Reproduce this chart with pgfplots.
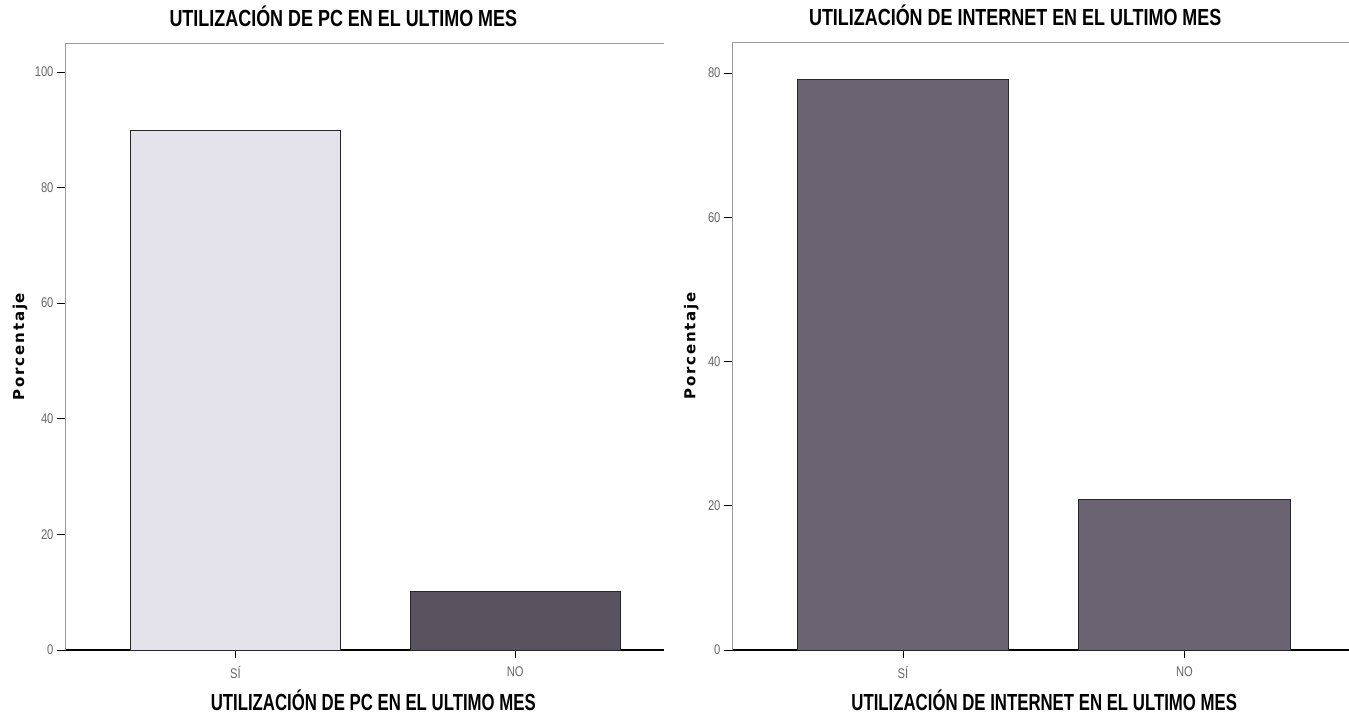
\documentclass[border=0pt]{standalone}
\usepackage{fontspec}
\usepackage{pgfplots}
\pgfplotsset{compat=1.18}
\setmainfont{Liberation Sans}
\newfontfamily\titlefont[FakeStretch=0.77]{Liberation Sans Bold}
\newfontfamily\xlabfont[FakeStretch=0.72]{Liberation Sans Bold}
\newfontfamily\tickfont[FakeStretch=0.8]{Liberation Sans}
\newfontfamily\ylabfont[LetterSpace=12]{DejaVu Sans Bold}

\definecolor{barlight}{HTML}{E4E2EB}
\definecolor{bardark}{HTML}{58535E}
\definecolor{barmid}{HTML}{6B6371}
\definecolor{frame}{HTML}{9A9A9A}

\pgfplotsset{
  spss/.style={
    scale only axis, anchor=south west,
    ymin=0,
    axis x line*=bottom, axis y line*=left,
    x axis line style={black, line width=1.4pt},
    y axis line style={frame, line width=0.7pt},
    tick align=outside,
    major tick length=8pt,
    tick style={black, line width=0.8pt},
    xtick={0,1}, xticklabels={SÍ,NO},
    xticklabel style={yshift=-5pt},
    /pgf/number format/assume math mode=true,
    ticklabel style={font=\tickfont\fontsize{14}{16}\selectfont, text=black!60},
    title style={font=\titlefont\fontsize{23.3}{28}\selectfont, anchor=base, yshift=10pt},
    xlabel style={font=\xlabfont\fontsize{23.3}{28}\selectfont, anchor=base, yshift=-60pt},
    ylabel style={font=\ylabfont\fontsize{15}{18}\selectfont, anchor=center},
    ylabel={Porcentaje},
    after end axis/.code={
      \draw[frame, line width=0.7pt] (rel axis cs:0,1) -- (rel axis cs:1,1);
    },
  },
  bar/.style={ybar, bar width=0.75, bar shift=0pt, draw=black!85, line width=1pt},
}

\begin{document}
\begin{tikzpicture}
\path[use as bounding box] (0pt,0pt) rectangle (1349pt,716pt);

% PC
\begin{axis}[spss,
  at={(65pt,66pt)}, width=598.5pt, height=607pt,
  xmin=-0.609, xmax=1.53, ymax=105,
  ytick={0,20,40,60,80,100},
  title={UTILIZACIÓN DE PC EN EL ULTIMO MES},
  title style={at={(axis description cs:0.465,1)}},
  xlabel={UTILIZACIÓN DE PC EN EL ULTIMO MES},
  xlabel style={at={(axis description cs:0.515,0)}},
  ylabel style={at={(axis description cs:-0.075,0.5)}},
]
\addplot[bar, fill=barlight] coordinates {(0,89.8)};
\addplot[bar, fill=bardark] coordinates {(1,10.2)};
\end{axis}

% Internet
\begin{axis}[spss,
  at={(732pt,66pt)}, width=617pt, height=608pt,
  xmin=-0.607, xmax=1.584, ymax=84.3,
  ytick={0,20,40,60,80},
  title={UTILIZACIÓN DE INTERNET EN EL ULTIMO MES},
  title style={at={(axis description cs:0.459,1)}},
  xlabel={UTILIZACIÓN DE INTERNET EN EL ULTIMO MES},
  xlabel style={at={(axis description cs:0.506,0)}},
  ylabel style={at={(axis description cs:-0.066,0.5)}},
]
\addplot[bar, fill=barmid] coordinates {(0,79.1)};
\addplot[bar, fill=barmid] coordinates {(1,20.9)};
\end{axis}
\end{tikzpicture}
\end{document}
